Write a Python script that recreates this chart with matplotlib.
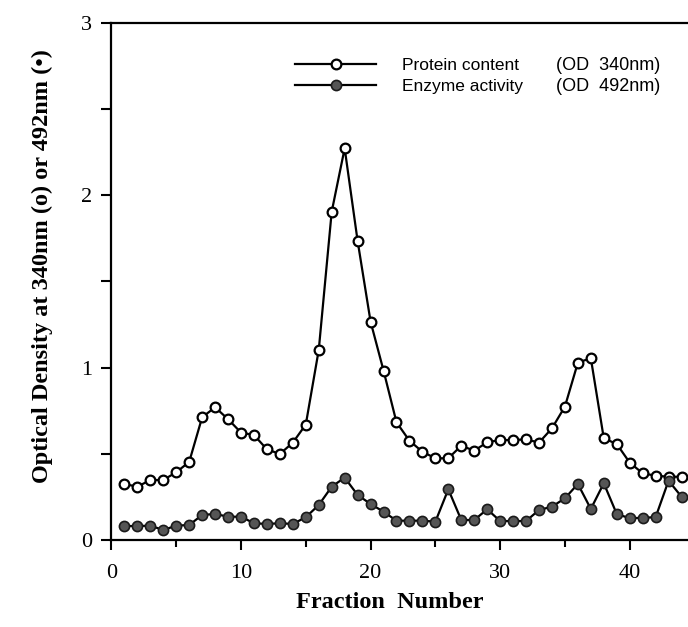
import matplotlib
matplotlib.use('Agg')
import matplotlib.pyplot as plt

fractions = list(range(1, 45))
protein_od340 = [0.325, 0.309, 0.348, 0.348, 0.393, 0.453, 0.712, 0.770, 0.701, 0.623,
                 0.609, 0.526, 0.499, 0.565, 0.670, 1.103, 1.905, 2.273, 1.735, 1.267,
                 0.983, 0.683, 0.576, 0.512, 0.474, 0.474, 0.547, 0.518, 0.567, 0.580,
                 0.580, 0.584, 0.565, 0.648, 0.774, 1.029, 1.055, 0.590, 0.557, 0.449,
                 0.387, 0.373, 0.367, 0.367]
enzyme_od492 = [0.081, 0.081, 0.083, 0.058, 0.083, 0.087, 0.145, 0.151, 0.135, 0.135,
                0.097, 0.093, 0.097, 0.093, 0.132, 0.203, 0.309, 0.362, 0.261, 0.209,
                0.164, 0.112, 0.112, 0.112, 0.106, 0.294, 0.116, 0.116, 0.178, 0.110,
                0.110, 0.110, 0.174, 0.193, 0.242, 0.325, 0.180, 0.329, 0.151, 0.126,
                0.129, 0.132, 0.344, 0.251]

x_major = [0, 10, 20, 30, 40]
x_minor = [5, 15, 25, 35]
y_major = [0, 1, 2, 3]
y_minor = [0.5, 1.5, 2.5]

legend_names = ['Protein content', 'Enzyme activity']
legend_units = ['(OD  340nm)', '(OD  492nm)']

serif = ['Liberation Serif', 'DejaVu Serif']
sans = ['Liberation Sans', 'DejaVu Sans']

fig = plt.figure(figsize=(6.88, 6.27), dpi=100)
ax = fig.add_axes([0.162, 0.1388, 0.838, 0.8245])

# the two curves
l1, = ax.plot(fractions, protein_od340, color='black', lw=1.6, marker='o', ms=7,
              mfc='white', mec='black', mew=1.6, clip_on=False, zorder=3)
l2, = ax.plot(fractions, enzyme_od492, color='black', lw=1.6, marker='o', ms=7.3,
              mfc='#555555', mec='#1a1a1a', mew=1.2, clip_on=False, zorder=3)

ax.set_xlim(0, 44.5)
ax.set_ylim(0, 3)

# axis frame: left, bottom, top (the right side is cut off in the scan)
ax.spines['right'].set_visible(False)
for s in ['left', 'bottom', 'top']:
    ax.spines[s].set_linewidth(1.6)

ax.set_xticks(x_major)
ax.set_xticks(x_minor, minor=True)
ax.set_yticks(y_major)
ax.set_yticks(y_minor, minor=True)
ax.tick_params(axis='both', which='both', direction='out', width=1.5)
ax.tick_params(axis='both', which='major', length=7)
ax.tick_params(axis='x', which='minor', length=5)
ax.tick_params(axis='y', which='minor', length=7)
ax.tick_params(axis='x', which='major', pad=10)
ax.tick_params(axis='y', which='major', pad=7)
for lab in ax.get_xticklabels() + ax.get_yticklabels():
    lab.set_family(serif)
    lab.set_fontsize(16)

# axis titles
fig.text(42 / 688, 1 - 266 / 627, 'Optical Density at 340nm (o) or 492nm (\u2022)',
         rotation=90, ha='center', va='center', family=serif, fontsize=17.5,
         fontweight='bold')
fig.text(390 / 688, 1 - 603 / 627, 'Fraction  Number', ha='center', va='center',
         family=serif, fontsize=17.5, fontweight='bold')

# legend: names from the legend box, units as separate column
leg = ax.legend([l1, l2], legend_names, loc='upper left', bbox_to_anchor=(0.318, 0.933),
                frameon=False, borderpad=0, borderaxespad=0, handlelength=4.7,
                handletextpad=1.5, labelspacing=0.33, prop={'family': sans, 'size': 12.5})
ax.text(0.771, 0.918, legend_units[0], transform=ax.transAxes, ha='left', va='center',
        family=sans, fontsize=13)
ax.text(0.771, 0.878, legend_units[1], transform=ax.transAxes, ha='left', va='center',
        family=sans, fontsize=13)

plt.savefig('out.png', dpi=100)
